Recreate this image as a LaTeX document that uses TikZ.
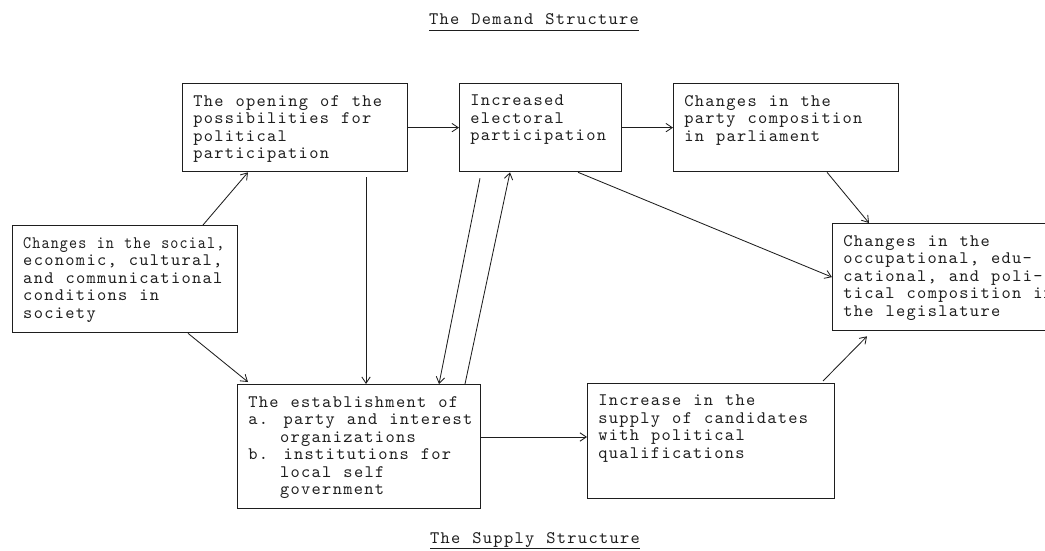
\documentclass[tikz,border=0pt]{standalone}
\usepackage{graphicx}
\usepackage{fontspec}
\usetikzlibrary{arrows.meta,calc}

\definecolor{myink}{RGB}{30,30,30}
\newfontfamily\typer{lmmono10-regular.otf}[LetterSpace=7.5, WordSpace=1.14]
\newcommand{\typefont}{\typer\fontsize{12.5}{12.45}\selectfont}
\newcommand{\headline}[1]{\underline{\smash{#1}\rule[-2.2pt]{0pt}{2.2pt}}}

\begin{document}
\begin{tikzpicture}[
    x=0.025cm, y=-0.025cm,
    block/.style={draw=myink, line width=0.9pt, anchor=north west, inner sep=0pt},
    blocktext/.style={anchor=north west, align=left, inner xsep=7.8pt,
        inner ysep=8.5pt, font=\typefont, text=myink},
    heading/.style={anchor=base, inner sep=0pt, font=\typefont, text=myink},
    link/.style={draw=myink, line width=0.6pt,
        -{Straight Barb[length=4.5pt,width=6pt]}}
]

\useasboundingbox (0,0) rectangle (1045,551);

% titles
\node[heading] (demand) at (534,25) {\headline{The Demand Structure}};
\node[heading] (supplytitle) at (535,543) {\headline{The Supply Structure}};

% demand side
\node[block, minimum width=5.625cm, minimum height=2.2cm,
    label={[blocktext]north west:{The opening of the\\possibilities for\\political\\participation}}]
    (opening) at (182,83) {};
\node[block, minimum width=4.05cm, minimum height=2.2cm,
    label={[blocktext]north west:{Increased\\electoral\\participation}}]
    (electoral) at (459,83) {};
\node[block, minimum width=5.625cm, minimum height=2.2cm,
    label={[blocktext]north west:{Changes in the\\party composition\\in parliament}}]
    (party) at (673,83) {};
\node[block, minimum width=6cm, minimum height=2.675cm,
    label={[blocktext]north west:{Changes in the\\occupational, edu-\\cational, and poli-\\tical composition in\\the legislature}}]
    (legislature) at (832,223) {};
\node[block, minimum width=5.625cm, minimum height=2.675cm,
    label={[blocktext]north west:{\scalebox{0.87}[1]{Changes in the social,}\\economic, cultural,\\and communicational\\conditions in\\society}}]
    (changes) at (12,225) {};

% supply side
\node[block, minimum width=6.075cm, minimum height=3.1cm,
    label={[blocktext]north west:{The establishment of\\a. party and interest\\\phantom{a.~}organizations\\b. institutions for\\\phantom{b.~}local self\\\phantom{b.~}government}}]
    (establishment) at (237,384) {};
\node[block, minimum width=6.175cm, minimum height=2.875cm,
    label={[blocktext]north west:{Increase in the\\supply of candidates\\with political\\qualifications}}]
    (supply) at (587,383) {};

% arrows
\draw[link] ($(changes.north west)+(191,0)$) -- ($(opening.south west)+(66,0)$);
\foreach \a/\b in {opening/electoral, electoral/party}
    \draw[link] (\a.east) -- (\b.west);
\draw[link] ($(party.south west)+(154,0)$) -- ($(legislature.north west)+(37,0)$);
\draw[link] ($(electoral.south west)+(119,0)$) -- (legislature.west);
\draw[link] ($(opening.south west)+(184,5)$) coordinate (drop) -- (drop |- establishment.north);
\draw[link] ($(electoral.south west)+(21,6)$) -- ($(establishment.north west)+(202,0)$);
\draw[link] ($(establishment.north west)+(228,0)$) -- ($(electoral.south west)+(51,0)$);
\draw[link] ($(changes.south west)+(176,0)$) -- ($(establishment.north west)+(11,-2)$);
\draw[link] ($(establishment.north east)+(0,53)$) coordinate (feed) -- (feed -| supply.west);
\draw[link] ($(supply.north west)+(236,-2)$) -- ($(legislature.south west)+(35,5)$);

\end{tikzpicture}
\end{document}
